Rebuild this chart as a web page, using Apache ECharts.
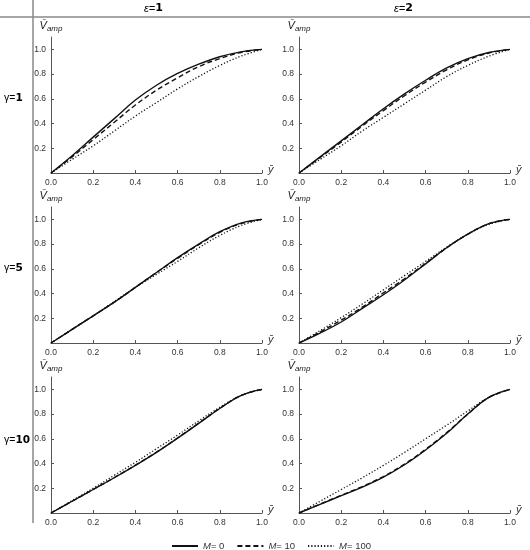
<!DOCTYPE html>
<html>
<head>
<meta charset="utf-8">
<script src="https://cdn.jsdelivr.net/npm/echarts@6/dist/echarts.min.js"></script>
<style>
  html, body { margin: 0; padding: 0; background: #fff; }
  #chart { width: 530px; height: 550px; }
</style>
</head>
<body>
<div id="chart"></div>
<script>
// y-bar positions where the curves were read
var yBar = [0, 0.1, 0.2, 0.3, 0.4, 0.5, 0.6, 0.7, 0.8, 0.9, 1.0];
var xTicks = ['0.0', '0.2', '0.4', '0.6', '0.8', '1.0'];
var seriesNames = ['M= 0', 'M= 10', 'M= 100'];
var colHeads = ['1', '2'];   // epsilon
var rowHeads = ['1', '5', '10'];  // gamma

// gamma = 1, epsilon = 1
var g1e1_m0 = [0, 0.14, 0.29, 0.44, 0.59, 0.71, 0.805, 0.88, 0.94, 0.98, 1.0];
var g1e1_m10 = [0, 0.13, 0.27, 0.41, 0.55, 0.67, 0.77, 0.86, 0.925, 0.975, 1.0];
var g1e1_m100 = [0, 0.11, 0.22, 0.34, 0.46, 0.57, 0.68, 0.78, 0.87, 0.945, 1.0];
// gamma = 1, epsilon = 2
var g1e2_m0 = [0, 0.13, 0.26, 0.39, 0.52, 0.64, 0.75, 0.85, 0.925, 0.975, 1.0];
var g1e2_m10 = [0, 0.125, 0.25, 0.38, 0.505, 0.625, 0.735, 0.835, 0.915, 0.97, 1.0];
var g1e2_m100 = [0, 0.11, 0.22, 0.34, 0.45, 0.56, 0.67, 0.78, 0.87, 0.945, 1.0];
// gamma = 5, epsilon = 1
var g5e1_m0 = [0, 0.11, 0.22, 0.33, 0.45, 0.57, 0.69, 0.80, 0.90, 0.97, 1.0];
var g5e1_m10 = [0, 0.11, 0.22, 0.33, 0.45, 0.57, 0.685, 0.795, 0.895, 0.965, 1.0];
var g5e1_m100 = [0, 0.11, 0.22, 0.335, 0.45, 0.555, 0.66, 0.77, 0.87, 0.95, 1.0];
// gamma = 5, epsilon = 2
var g5e2_m0 = [0, 0.08, 0.17, 0.28, 0.39, 0.51, 0.64, 0.77, 0.88, 0.965, 1.0];
var g5e2_m10 = [0, 0.09, 0.185, 0.29, 0.405, 0.52, 0.645, 0.77, 0.88, 0.965, 1.0];
var g5e2_m100 = [0, 0.1, 0.205, 0.315, 0.43, 0.545, 0.66, 0.775, 0.88, 0.96, 1.0];
// gamma = 10, epsilon = 1
var g10e1_m0 = [0, 0.095, 0.19, 0.285, 0.385, 0.49, 0.605, 0.725, 0.845, 0.95, 1.0];
var g10e1_m10 = [0, 0.095, 0.19, 0.287, 0.387, 0.492, 0.607, 0.727, 0.846, 0.95, 1.0];
var g10e1_m100 = [0, 0.1, 0.2, 0.305, 0.41, 0.52, 0.63, 0.745, 0.855, 0.95, 1.0];
// gamma = 10, epsilon = 2
var g10e2_m0 = [0, 0.07, 0.14, 0.21, 0.29, 0.39, 0.51, 0.645, 0.80, 0.935, 1.0];
var g10e2_m10 = [0, 0.072, 0.143, 0.214, 0.295, 0.395, 0.515, 0.65, 0.80, 0.935, 1.0];
var g10e2_m100 = [0, 0.095, 0.19, 0.285, 0.385, 0.49, 0.60, 0.71, 0.825, 0.935, 1.0];

var panels = [
  [g1e1_m0, g1e1_m10, g1e1_m100], [g1e2_m0, g1e2_m10, g1e2_m100],
  [g5e1_m0, g5e1_m10, g5e1_m100], [g5e2_m0, g5e2_m10, g5e2_m100],
  [g10e1_m0, g10e1_m10, g10e1_m100], [g10e2_m0, g10e2_m10, g10e2_m100]
];

var gridLeft = [51, 299];
var gridTop = [37, 207, 377];
var dashes = ['solid', [5, 3], [1.2, 2]];
var font = 'Liberation Sans, Arial, sans-serif';

var chartDom = document.getElementById('chart');
var myChart = echarts.init(chartDom);
var option;

var grids = [], xAxes = [], yAxes = [], series = [];
for (var p = 0; p < 6; p++) {
  var r = Math.floor(p / 2), c = p % 2;
  grids.push({ left: gridLeft[c], top: gridTop[r], width: 211, height: 136 });
  xAxes.push({
    type: 'value', gridIndex: p, min: 0, max: 1, interval: 0.2,
    name: 'ȳ', nameLocation: 'end', nameGap: 6,
    nameTextStyle: { fontFamily: font, fontSize: 11, color: '#333', fontStyle: 'italic', verticalAlign: 'bottom', padding: [0, 0, -2, 0] },
    axisLine: { lineStyle: { color: '#555', width: 1 } },
    axisTick: { inside: true, length: 3, lineStyle: { color: '#555' } },
    splitLine: { show: false },
    axisLabel: {
      fontFamily: font, fontSize: 8.5, color: '#333', margin: 5,
      formatter: function (v) { return xTicks[Math.round(v * 5)]; }
    }
  });
  yAxes.push({
    type: 'value', gridIndex: p, min: 0, max: 1.1, interval: 0.2,
    name: '{v|V̄}{s|amp}', nameLocation: 'end', nameGap: 4,
    nameTextStyle: {
      rich: {
        v: { fontFamily: font, fontSize: 11, fontStyle: 'italic', color: '#222' },
        s: { fontFamily: font, fontSize: 8, fontStyle: 'italic', color: '#222', padding: [6, 0, 0, 0] }
      }
    },
    axisLine: { show: true, lineStyle: { color: '#555', width: 1 } },
    axisTick: { show: true, inside: true, length: 3, lineStyle: { color: '#555' } },
    splitLine: { show: false },
    axisLabel: {
      fontFamily: font, fontSize: 8.5, color: '#333', margin: 5, showMaxLabel: false,
      formatter: function (v) { return (v === 0 || v > 1.01) ? '' : v.toFixed(1); }
    }
  });
  for (var k = 0; k < 3; k++) {
    var vals = panels[p][k];
    series.push({
      name: seriesNames[k], type: 'line', xAxisIndex: p, yAxisIndex: p,
      smooth: 0.4, symbol: 'none', silent: true,
      data: yBar.map(function (x, i) { return [x, vals[i]]; }),
      lineStyle: { color: '#111', width: k === 2 ? 1.3 : 1.4, type: dashes[k] },
      itemStyle: { color: '#111' },
      z: 3 - k
    });
  }
}

var heads = [];
for (var i = 0; i < 2; i++) {
  heads.push({
    type: 'text', left: [144, 394][i], top: 3,
    style: { text: '{g|ε=}{b|' + colHeads[i] + '}', rich: {
      g: { fontFamily: font, fontSize: 11, fontStyle: 'italic', color: '#777' },
      b: { fontFamily: 'DejaVu Sans', fontSize: 11, fontWeight: 'bold', color: '#111' }
    } }
  });
}
for (var j = 0; j < 3; j++) {
  heads.push({
    type: 'text', left: 4, top: [93, 263, 435][j],
    style: { text: '{g|γ=}{b|' + rowHeads[j] + '}', rich: {
      g: { fontFamily: font, fontSize: 10.5, color: '#777' },
      b: { fontFamily: 'DejaVu Sans', fontSize: 10.5, fontWeight: 'bold', color: '#111' }
    } }
  });
}
heads.push({ type: 'line', shape: { x1: 0, y1: 17, x2: 530, y2: 17 }, style: { stroke: '#888', lineWidth: 1.5 } });
heads.push({ type: 'line', shape: { x1: 33, y1: 0, x2: 33, y2: 523 }, style: { stroke: '#888', lineWidth: 1.5 } });

option = {
  backgroundColor: '#fff',
  animation: false,
  grid: grids,
  xAxis: xAxes,
  yAxis: yAxes,
  legend: {
    data: seriesNames, left: 166, top: 536, itemWidth: 26, itemHeight: 8, itemGap: 12,
    itemStyle: { opacity: 0 },
    textStyle: {
      fontFamily: font, fontSize: 9.5, color: '#333',
      rich: { i: { fontFamily: font, fontSize: 9.5, fontStyle: 'italic', color: '#333' } }
    },
    formatter: function (n) { return '{i|M}' + n.slice(1); }
  },
  graphic: heads,
  series: series
};

option && myChart.setOption(option);
</script>
</body>
</html>
